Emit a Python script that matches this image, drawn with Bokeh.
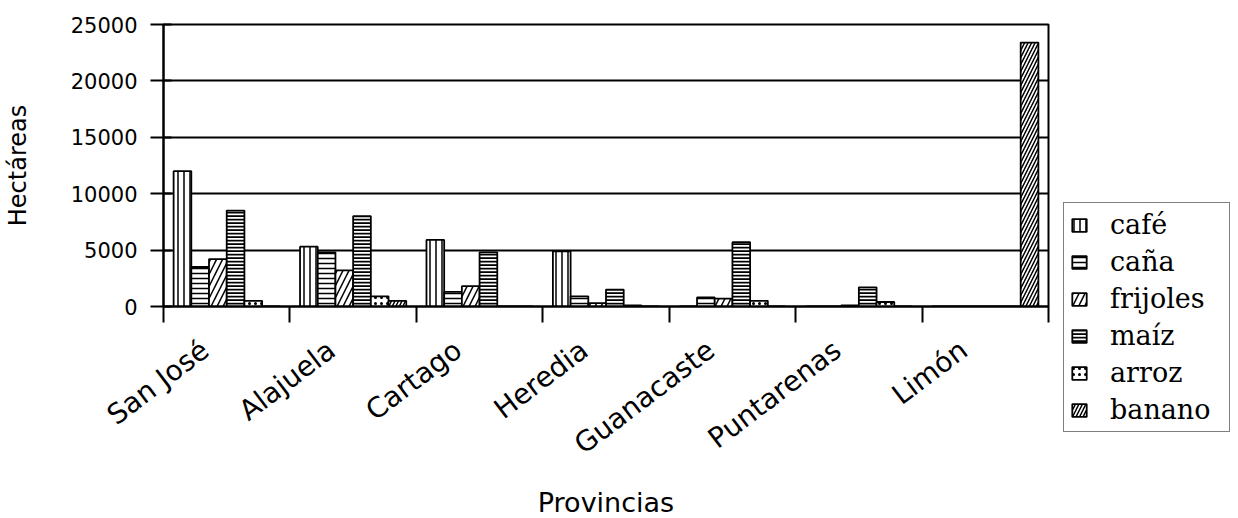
import numpy as np
from bokeh.plotting import figure
from bokeh.models import (ColumnDataSource, Range1d, FixedTicker, NumeralTickFormatter,
                          Legend, LegendItem)
from bokeh.transform import dodge
from bokeh.embed import file_html
from bokeh.resources import INLINE

provincias = ["San José", "Alajuela", "Cartago", "Heredia", "Guanacaste", "Puntarenas", "Limón"]
cultivos = ["café", "caña", "frijoles", "maíz", "arroz", "banano"]
cafe = [12000, 5300, 5900, 4900, 0, 0, 0]
cana = [3500, 4800, 1300, 900, 800, 0, 0]
frijoles = [4200, 3200, 1800, 300, 700, 100, 0]
maiz = [8500, 8000, 4800, 1500, 5700, 1700, 0]
arroz = [500, 900, 0, 100, 500, 400, 0]
banano = [0, 500, 0, 0, 0, 0, 23400]
y_ticks = [0, 5000, 10000, 15000, 20000, 25000]

n = len(provincias)
centers = [i + 0.5 for i in range(n)]
label_pos = [c - 0.17 for c in centers]   # rotated labels sit a little left of centre
bounds = list(range(n + 1))

src = ColumnDataSource(dict(pos=centers, cafe=cafe, cana=cana, frijoles=frijoles,
                            maiz=maiz, arroz=arroz, banano=banano))

p = figure(frame_width=885, frame_height=282, output_backend="svg", toolbar_location=None,
           x_range=Range1d(0, n), y_range=Range1d(0, 25000),
           min_border_left=157, min_border_right=10, min_border_top=24, min_border_bottom=10)

cols = ["cafe", "cana", "frijoles", "maiz", "arroz", "banano"]
hatches = [("|", 6, 1.5), ("-", 5, 1.5), ("/", 12, 1.5), ("-", 3.5, 2.0), (".", 6, 2.0), ("/", 7, 1.5)]
offsets = [-0.35, -0.21, -0.07, 0.07, 0.21, 0.35]
renderers = []
for col, (hp, hs, hw), off in zip(cols, hatches, offsets):
    r = p.vbar(x=dodge("pos", off, range=p.x_range), top=col, width=0.14, source=src,
               fill_color="white", line_color="black", line_width=1.8,
               hatch_pattern=hp, hatch_color="black", hatch_scale=hs, hatch_weight=hw)
    renderers.append(r)

# axes
xa = p.xaxis[0]
xa.ticker = FixedTicker(ticks=label_pos, minor_ticks=bounds)
xa.major_label_overrides = {c: name for c, name in zip(label_pos, provincias)}
xa.major_tick_out = 0
xa.major_tick_in = 0
xa.minor_tick_out = 16
xa.minor_tick_in = 0
xa.minor_tick_line_color = "black"
xa.minor_tick_line_width = 2
xa.axis_line_width = 2
xa.axis_line_color = "black"
xa.major_label_orientation = 0.65
xa.major_label_standoff = 24
xa.major_label_text_font = "DejaVu Sans"
xa.major_label_text_font_size = "28px"
xa.major_label_text_color = "black"
xa.axis_label = "Provincias"
xa.axis_label_text_font = "DejaVu Sans"
xa.axis_label_text_font_size = "27px"
xa.axis_label_text_font_style = "normal"
xa.axis_label_text_color = "black"
xa.axis_label_standoff = 10

ya = p.yaxis[0]
ya.ticker = FixedTicker(ticks=y_ticks, minor_ticks=[])
ya.formatter = NumeralTickFormatter(format="0")
ya.major_tick_in = 8
ya.major_tick_out = 13
ya.major_tick_line_width = 2
ya.major_tick_line_color = "black"
ya.axis_line_width = 2
ya.axis_line_color = "black"
ya.major_label_standoff = 13
ya.major_label_text_font = "DejaVu Sans"
ya.major_label_text_font_size = "21px"
ya.major_label_text_color = "black"
ya.axis_label = "Hectáreas"
ya.axis_label_text_font = "DejaVu Sans"
ya.axis_label_text_font_size = "24px"
ya.axis_label_text_font_style = "normal"
ya.axis_label_text_color = "black"
ya.axis_label_standoff = 36

p.xgrid.grid_line_color = None
p.ygrid.ticker = FixedTicker(ticks=y_ticks)
p.ygrid.grid_line_color = "black"
p.ygrid.grid_line_width = 2
p.outline_line_color = "black"
p.outline_line_width = 2
p.background_fill_color = "white"
p.border_fill_color = "white"

legend = Legend(items=[LegendItem(label=c, renderers=[r]) for c, r in zip(cultivos, renderers)],
                location=(15, -126), orientation="vertical")
legend.label_text_font = "DejaVu Serif"
legend.label_text_font_size = "27px"
legend.label_text_color = "black"
legend.glyph_width = 18
legend.glyph_height = 16
legend.label_standoff = 22
legend.label_width = 113
legend.spacing = 6
legend.padding = 6
legend.margin = 0
legend.border_line_color = "black"
legend.border_line_width = 1.5
legend.background_fill_color = "white"
legend.background_fill_alpha = 1.0
p.add_layout(legend, "right")

open("out.html", "w").write(file_html(p, INLINE))
